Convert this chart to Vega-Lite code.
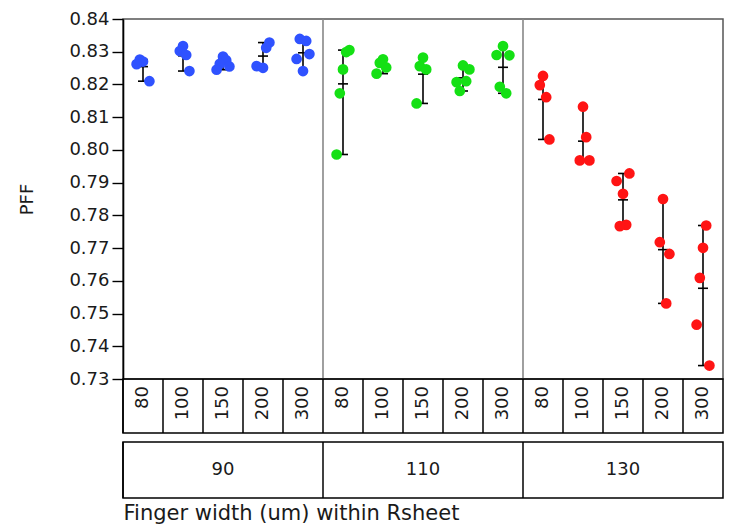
{
  "$schema": "https://vega.github.io/schema/vega-lite/v6.json",
  "background": "white",
  "padding": {"left": 18, "top": 9, "right": 5, "bottom": 3},
  "config": {
    "font": "DejaVu Sans",
    "view": {"stroke": "#555555", "strokeWidth": 1.5},
    "axisY": {"labelOverlap": false, "labelFlush": false}
  },
  "data": {
    "values": [
      {"Rsheet": 90, "Finger": 80, "Cell": "90-80", "Rep": 2, "PFF": 0.8276},
      {"Rsheet": 90, "Finger": 80, "Cell": "90-80", "Rep": 3, "PFF": 0.8270},
      {"Rsheet": 90, "Finger": 80, "Cell": "90-80", "Rep": 1, "PFF": 0.8262},
      {"Rsheet": 90, "Finger": 80, "Cell": "90-80", "Rep": 5, "PFF": 0.8210},
      {"Rsheet": 90, "Finger": 100, "Cell": "90-100", "Rep": 3, "PFF": 0.8317},
      {"Rsheet": 90, "Finger": 100, "Cell": "90-100", "Rep": 2, "PFF": 0.8302},
      {"Rsheet": 90, "Finger": 100, "Cell": "90-100", "Rep": 4, "PFF": 0.8290},
      {"Rsheet": 90, "Finger": 100, "Cell": "90-100", "Rep": 5, "PFF": 0.8241},
      {"Rsheet": 90, "Finger": 150, "Cell": "90-150", "Rep": 3, "PFF": 0.8285},
      {"Rsheet": 90, "Finger": 150, "Cell": "90-150", "Rep": 4, "PFF": 0.8274},
      {"Rsheet": 90, "Finger": 150, "Cell": "90-150", "Rep": 2, "PFF": 0.8263},
      {"Rsheet": 90, "Finger": 150, "Cell": "90-150", "Rep": 5, "PFF": 0.8255},
      {"Rsheet": 90, "Finger": 150, "Cell": "90-150", "Rep": 1, "PFF": 0.8245},
      {"Rsheet": 90, "Finger": 200, "Cell": "90-200", "Rep": 5, "PFF": 0.8328},
      {"Rsheet": 90, "Finger": 200, "Cell": "90-200", "Rep": 4, "PFF": 0.8312},
      {"Rsheet": 90, "Finger": 200, "Cell": "90-200", "Rep": 1, "PFF": 0.8256},
      {"Rsheet": 90, "Finger": 200, "Cell": "90-200", "Rep": 3, "PFF": 0.8251},
      {"Rsheet": 90, "Finger": 300, "Cell": "90-300", "Rep": 2, "PFF": 0.8339},
      {"Rsheet": 90, "Finger": 300, "Cell": "90-300", "Rep": 4, "PFF": 0.8333},
      {"Rsheet": 90, "Finger": 300, "Cell": "90-300", "Rep": 5, "PFF": 0.8293},
      {"Rsheet": 90, "Finger": 300, "Cell": "90-300", "Rep": 1, "PFF": 0.8278},
      {"Rsheet": 90, "Finger": 300, "Cell": "90-300", "Rep": 3, "PFF": 0.8241},
      {"Rsheet": 110, "Finger": 80, "Cell": "110-80", "Rep": 5, "PFF": 0.8305},
      {"Rsheet": 110, "Finger": 80, "Cell": "110-80", "Rep": 4, "PFF": 0.8299},
      {"Rsheet": 110, "Finger": 80, "Cell": "110-80", "Rep": 3, "PFF": 0.8246},
      {"Rsheet": 110, "Finger": 80, "Cell": "110-80", "Rep": 2, "PFF": 0.8173},
      {"Rsheet": 110, "Finger": 80, "Cell": "110-80", "Rep": 1, "PFF": 0.7986},
      {"Rsheet": 110, "Finger": 100, "Cell": "110-100", "Rep": 3, "PFF": 0.8277},
      {"Rsheet": 110, "Finger": 100, "Cell": "110-100", "Rep": 2, "PFF": 0.8266},
      {"Rsheet": 110, "Finger": 100, "Cell": "110-100", "Rep": 4, "PFF": 0.8252},
      {"Rsheet": 110, "Finger": 100, "Cell": "110-100", "Rep": 1, "PFF": 0.8233},
      {"Rsheet": 110, "Finger": 150, "Cell": "110-150", "Rep": 3, "PFF": 0.8282},
      {"Rsheet": 110, "Finger": 150, "Cell": "110-150", "Rep": 2, "PFF": 0.8256},
      {"Rsheet": 110, "Finger": 150, "Cell": "110-150", "Rep": 4, "PFF": 0.8246},
      {"Rsheet": 110, "Finger": 150, "Cell": "110-150", "Rep": 1, "PFF": 0.8142},
      {"Rsheet": 110, "Finger": 200, "Cell": "110-200", "Rep": 3, "PFF": 0.8258},
      {"Rsheet": 110, "Finger": 200, "Cell": "110-200", "Rep": 5, "PFF": 0.8246},
      {"Rsheet": 110, "Finger": 200, "Cell": "110-200", "Rep": 1, "PFF": 0.8207},
      {"Rsheet": 110, "Finger": 200, "Cell": "110-200", "Rep": 4, "PFF": 0.8210},
      {"Rsheet": 110, "Finger": 200, "Cell": "110-200", "Rep": 2, "PFF": 0.8180},
      {"Rsheet": 110, "Finger": 300, "Cell": "110-300", "Rep": 3, "PFF": 0.8317},
      {"Rsheet": 110, "Finger": 300, "Cell": "110-300", "Rep": 5, "PFF": 0.8289},
      {"Rsheet": 110, "Finger": 300, "Cell": "110-300", "Rep": 1, "PFF": 0.8290},
      {"Rsheet": 110, "Finger": 300, "Cell": "110-300", "Rep": 2, "PFF": 0.8193},
      {"Rsheet": 110, "Finger": 300, "Cell": "110-300", "Rep": 4, "PFF": 0.8173},
      {"Rsheet": 130, "Finger": 80, "Cell": "130-80", "Rep": 3, "PFF": 0.8226},
      {"Rsheet": 130, "Finger": 80, "Cell": "130-80", "Rep": 2, "PFF": 0.8198},
      {"Rsheet": 130, "Finger": 80, "Cell": "130-80", "Rep": 4, "PFF": 0.8161},
      {"Rsheet": 130, "Finger": 80, "Cell": "130-80", "Rep": 5, "PFF": 0.8032},
      {"Rsheet": 130, "Finger": 100, "Cell": "130-100", "Rep": 3, "PFF": 0.8132},
      {"Rsheet": 130, "Finger": 100, "Cell": "130-100", "Rep": 4, "PFF": 0.8039},
      {"Rsheet": 130, "Finger": 100, "Cell": "130-100", "Rep": 2, "PFF": 0.7968},
      {"Rsheet": 130, "Finger": 100, "Cell": "130-100", "Rep": 5, "PFF": 0.7968},
      {"Rsheet": 130, "Finger": 150, "Cell": "130-150", "Rep": 5, "PFF": 0.7928},
      {"Rsheet": 130, "Finger": 150, "Cell": "130-150", "Rep": 1, "PFF": 0.7905},
      {"Rsheet": 130, "Finger": 150, "Cell": "130-150", "Rep": 3, "PFF": 0.7866},
      {"Rsheet": 130, "Finger": 150, "Cell": "130-150", "Rep": 4, "PFF": 0.7771},
      {"Rsheet": 130, "Finger": 150, "Cell": "130-150", "Rep": 2, "PFF": 0.7767},
      {"Rsheet": 130, "Finger": 200, "Cell": "130-200", "Rep": 3, "PFF": 0.7850},
      {"Rsheet": 130, "Finger": 200, "Cell": "130-200", "Rep": 2, "PFF": 0.7718},
      {"Rsheet": 130, "Finger": 200, "Cell": "130-200", "Rep": 5, "PFF": 0.7682},
      {"Rsheet": 130, "Finger": 200, "Cell": "130-200", "Rep": 4, "PFF": 0.7531},
      {"Rsheet": 130, "Finger": 300, "Cell": "130-300", "Rep": 4, "PFF": 0.7769},
      {"Rsheet": 130, "Finger": 300, "Cell": "130-300", "Rep": 3, "PFF": 0.7701},
      {"Rsheet": 130, "Finger": 300, "Cell": "130-300", "Rep": 2, "PFF": 0.7609},
      {"Rsheet": 130, "Finger": 300, "Cell": "130-300", "Rep": 1, "PFF": 0.7466},
      {"Rsheet": 130, "Finger": 300, "Cell": "130-300", "Rep": 5, "PFF": 0.7341}
    ]
  },
  "spacing": 5,
  "vconcat": [
    {
      "bounds": "flush",
      "spacing": 0,
      "vconcat": [
        {
          "width": 600,
          "height": 360,
          "encoding": {
            "x": {
              "field": "Cell", "type": "ordinal",
              "sort": ["90-80", "90-100", "90-150", "90-200", "90-300", "110-80", "110-100", "110-150", "110-200", "110-300", "130-80", "130-100", "130-150", "130-200", "130-300"],
              "scale": {"paddingInner": 0, "paddingOuter": 0}, "axis": null
            }
          },
          "layer": [
            {
              "transform": [
                {"filter": "datum.Finger == 80 && datum.Rsheet != 90"},
                {"aggregate": [{"op": "count", "as": "n"}], "groupby": ["Cell"]}
              ],
              "mark": {"type": "rule", "color": "#888888", "strokeWidth": 1.6},
              "encoding": {
                "x": {
                  "field": "Cell", "type": "ordinal", "bandPosition": 0,
                  "sort": ["90-80", "90-100", "90-150", "90-200", "90-300", "110-80", "110-100", "110-150", "110-200", "110-300", "130-80", "130-100", "130-150", "130-200", "130-300"],
                  "scale": {"paddingInner": 0, "paddingOuter": 0}, "axis": null
                }
              }
            },
            {
              "mark": {"type": "rule", "color": "black", "strokeWidth": 1.6},
              "encoding": {
                "y": {
                  "aggregate": "min", "field": "PFF", "type": "quantitative", "title": "PFF",
                  "scale": {"domain": [0.73, 0.84], "nice": false, "zero": false},
                  "axis": {
                    "values": [0.73, 0.74, 0.75, 0.76, 0.77, 0.78, 0.79, 0.8, 0.81, 0.82, 0.83, 0.84],
                    "tickCount": 12,
                    "format": ".2f", "grid": false, "labelOverlap": false, "labelFlush": false,
                    "domainColor": "black", "domainWidth": 1.6,
                    "tickColor": "black", "tickWidth": 1.4, "tickSize": 11,
                    "labelFontSize": 18, "labelColor": "#1a1a1a", "labelPadding": 3,
                    "titleFontSize": 18, "titleFontWeight": "normal", "titleColor": "#1a1a1a", "titlePadding": 32
                  }
                },
                "y2": {"aggregate": "max", "field": "PFF"}
              }
            },
            {
              "mark": {"type": "tick", "color": "black", "size": 10, "thickness": 1.6},
              "encoding": {"y": {"aggregate": "min", "field": "PFF", "type": "quantitative", "title": "PFF"}}
            },
            {
              "mark": {"type": "tick", "color": "black", "size": 10, "thickness": 1.6},
              "encoding": {"y": {"aggregate": "max", "field": "PFF", "type": "quantitative", "title": "PFF"}}
            },
            {
              "mark": {"type": "tick", "color": "black", "size": 10, "thickness": 1.6},
              "encoding": {"y": {"aggregate": "mean", "field": "PFF", "type": "quantitative", "title": "PFF"}}
            },
            {
              "mark": {"type": "circle", "size": 115, "opacity": 1},
              "encoding": {
                "xOffset": {"field": "Rep", "type": "ordinal", "scale": {"domain": [1, 2, 3, 4, 5], "range": [12, 28]}},
                "y": {"field": "PFF", "type": "quantitative", "title": "PFF"},
                "color": {"field": "Rsheet", "type": "ordinal", "scale": {"domain": [90, 110, 130], "range": ["#2f52ff", "#14e014", "#ff1414"]}, "legend": null}
              }
            }
          ]
        },
        {
          "transform": [{"aggregate": [{"op": "count", "as": "n"}], "groupby": ["Cell", "Finger"]}],
          "width": 600,
          "height": 54,
          "view": {"stroke": "black", "strokeWidth": 1.5},
          "encoding": {
            "x": {
              "field": "Cell", "type": "ordinal",
              "sort": ["90-80", "90-100", "90-150", "90-200", "90-300", "110-80", "110-100", "110-150", "110-200", "110-300", "130-80", "130-100", "130-150", "130-200", "130-300"],
              "scale": {"paddingInner": 0, "paddingOuter": 0}, "axis": null
            }
          },
          "layer": [
            {
              "mark": {"type": "rule", "color": "black", "strokeWidth": 1.5},
              "encoding": {
                "x": {
                  "field": "Cell", "type": "ordinal", "bandPosition": 0,
                  "sort": ["90-80", "90-100", "90-150", "90-200", "90-300", "110-80", "110-100", "110-150", "110-200", "110-300", "130-80", "130-100", "130-150", "130-200", "130-300"],
                  "scale": {"paddingInner": 0, "paddingOuter": 0}, "axis": null
                }
              }
            },
            {
              "mark": {"type": "text", "angle": 270, "align": "right", "baseline": "middle", "dx": 20, "fontSize": 18, "color": "#1a1a1a"},
              "encoding": {"text": {"field": "Finger", "type": "nominal"}}
            }
          ]
        }
      ]
    },
    {
      "transform": [{"aggregate": [{"op": "count", "as": "n"}], "groupby": ["Rsheet"]}],
      "width": 600,
      "height": 56,
      "view": {"stroke": "black", "strokeWidth": 1.5},
      "encoding": {
        "x": {
          "field": "Rsheet", "type": "ordinal", "sort": [90, 110, 130],
          "scale": {"paddingInner": 0, "paddingOuter": 0},
          "axis": {"title": "Finger width (um) within Rsheet", "labels": false, "ticks": false, "domain": false, "titleAnchor": "start", "titleAlign": "left", "titleFontSize": 21, "titleFontWeight": "normal", "titleColor": "#1a1a1a", "titlePadding": 4}
        }
      },
      "layer": [
        {
          "mark": {"type": "rule", "color": "black", "strokeWidth": 1.5},
          "encoding": {"x": {"field": "Rsheet", "type": "ordinal", "sort": [90, 110, 130], "bandPosition": 0, "scale": {"paddingInner": 0, "paddingOuter": 0}, "axis": {"title": "Finger width (um) within Rsheet", "labels": false, "ticks": false, "domain": false, "titleAnchor": "start", "titleAlign": "left", "titleFontSize": 21, "titleFontWeight": "normal", "titleColor": "#1a1a1a", "titlePadding": 4}}}
        },
        {
          "mark": {"type": "text", "fontSize": 18, "color": "#1a1a1a"},
          "encoding": {"text": {"field": "Rsheet", "type": "nominal"}}
        },
        {
          "mark": {"type": "rule", "opacity": 0},
          "encoding": {
            "y": {
              "datum": 0.785, "type": "quantitative", "title": "PFF",
              "scale": {"domain": [0.73, 0.84], "nice": false, "zero": false},
              "axis": {"values": [0.785], "format": ".2f", "grid": false, "domainOpacity": 0, "tickOpacity": 0, "tickSize": 11, "labelFontSize": 18, "labelOpacity": 0, "labelPadding": 3, "titleFontSize": 18, "titleFontWeight": "normal", "titleOpacity": 0, "titlePadding": 32}
            }
          }
        }
      ]
    }
  ]
}
